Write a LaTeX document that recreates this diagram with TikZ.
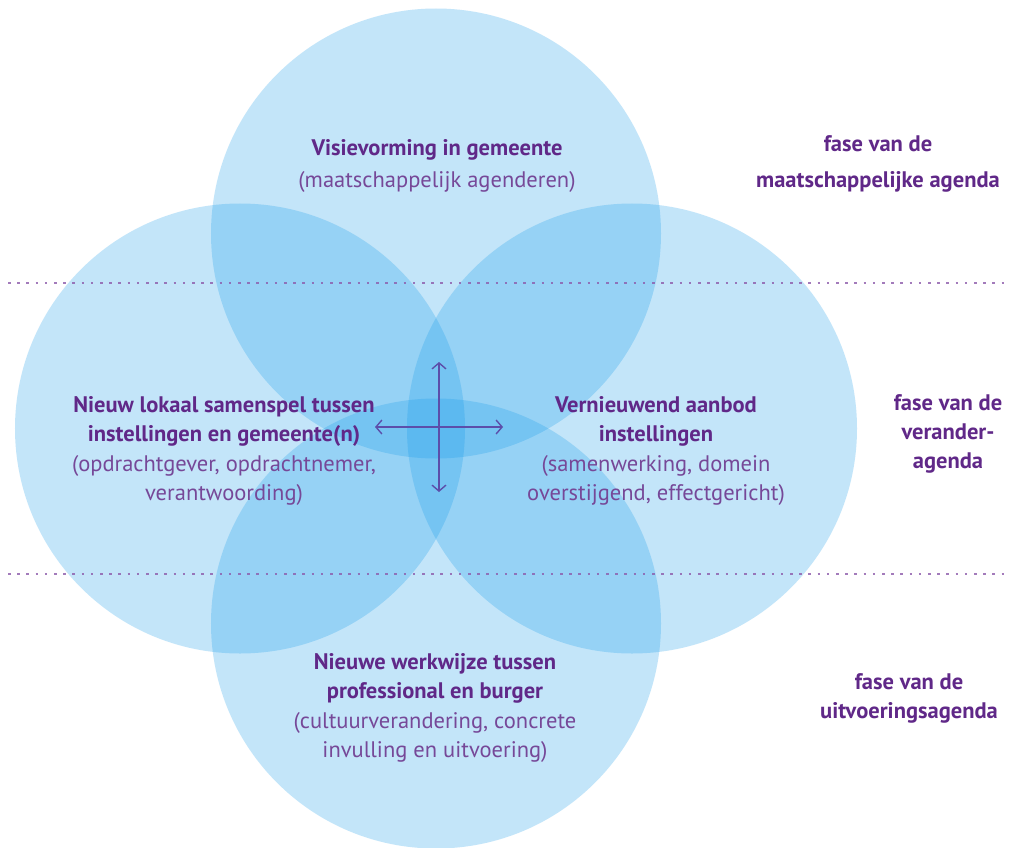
\documentclass[tikz,border=0pt]{standalone}
\usepackage{fontspec}
\setmainfont{PT Sans}
\usetikzlibrary{arrows.meta}
\definecolor{circblue}{RGB}{19,155,235}
\definecolor{txtbold}{RGB}{96,40,136}
\definecolor{txtreg}{RGB}{118,72,152}
\definecolor{arrowcol}{RGB}{92,78,170}
\definecolor{dotcol}{RGB}{140,90,170}
\tikzset{
  venn/.style={circle, minimum size=450bp, inner sep=0pt, fill=circblue, fill opacity=0.25, draw=none},
  lbl/.style={align=center, inner sep=0pt, text=txtreg, font=\fontsize{22.6}{29.5}\selectfont},
  dotline/.style={draw=dotcol, line width=2.6bp, dash pattern=on 2.6bp off 6.6bp, opacity=0.8},
  cross/.style={draw=arrowcol, line width=1.4bp, {Straight Barb[length=6bp,width=14bp]}-{Straight Barb[length=6bp,width=14bp]}}
}
\begin{document}
\begin{tikzpicture}[x=1bp,y=-1bp]
\useasboundingbox (0,0) rectangle (1011,848);
\fill[white] (0,0) rectangle (1011,848);
% circles
\node[venn] (ctop) at (436,233.5) {};
\node[venn] (cleft) at (240,428.5) {};
\node[venn] (cright) at (632,428.5) {};
\node[venn] (cbot) at (436,623.5) {};
% dotted phase lines
\coordinate (d1a) at (8,283);
\coordinate (d1b) at (1006,283);
\coordinate (d2a) at (8,574);
\coordinate (d2b) at (1006,574);
\draw[dotline] (d1a) -- (d1b);
\draw[dotline] (d2a) -- (d2b);
% central cross arrows
\coordinate (vt) at (439,362);
\coordinate (vb) at (439,492);
\coordinate (hl) at (375,427);
\coordinate (hr) at (503,427);
\draw[cross] (vt) -- (vb);
\draw[cross] (hl) -- (hr);
% circle texts
\node[lbl, font=\fontsize{22.6}{33}\selectfont] (ttop) at (437,166) {\textbf{\color{txtbold}Visievorming in gemeente}\\(maatschappelijk agenderen)};
\node[lbl] (tleft) at (224,451) {\textbf{\color{txtbold}Nieuw lokaal samenspel tussen}\\\textbf{\color{txtbold}instellingen en gemeente(n)}\\(opdrachtgever, opdrachtnemer,\\verantwoording)};
\node[lbl] (tright) at (656,451) {\textbf{\color{txtbold}Vernieuwend aanbod}\\\textbf{\color{txtbold}instellingen}\\(samenwerking, domein\\overstijgend, effectgericht)};
\node[lbl] (tbot) at (435,708) {\textbf{\color{txtbold}Nieuwe werkwijze tussen}\\\textbf{\color{txtbold}professional en burger}\\(cultuurverandering, concrete\\invulling en uitvoering)};
% phase labels
\node[lbl, text=txtbold, font=\fontsize{22.6}{36}\selectfont\bfseries] (p1) at (878,164) {fase van de\\maatschappelijke agenda};
\node[lbl, text=txtbold, font=\fontsize{22.6}{29.5}\selectfont\bfseries] (p2) at (948,434) {fase van de\\verander-\\agenda};
\node[lbl, text=txtbold, font=\fontsize{22.6}{29}\selectfont\bfseries] (p3) at (909,698) {fase van de\\uitvoeringsagenda};
\end{tikzpicture}
\end{document}
